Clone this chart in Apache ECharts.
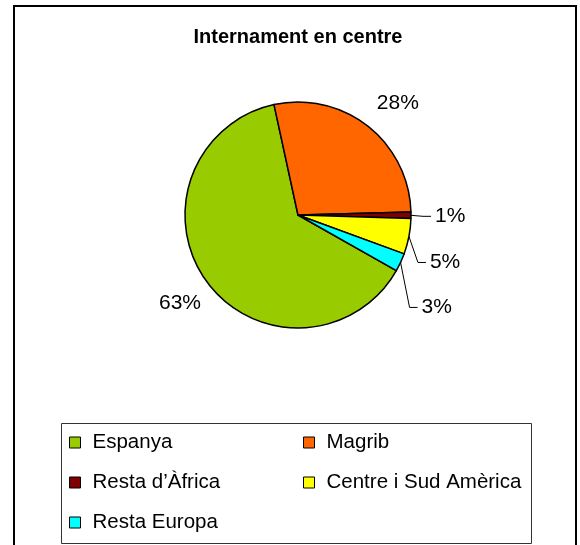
<!DOCTYPE html>
<html>
<head>
<meta charset="utf-8">
<script src="https://cdn.jsdelivr.net/npm/echarts@6/dist/echarts.min.js"></script>
<style>
html, body { margin: 0; padding: 0; background: #fff; }
#js-pie { width: 580px; height: 545px; }
</style>
</head>
<body>
<div id="js-pie"></div>
<script>
// data (percent of internments)
var categories = ['Espanya', 'Magrib', 'Resta d’Àfrica', 'Centre i Sud Amèrica', 'Resta Europa'];
var values = [63.4, 28.0, 0.9, 5.1, 2.6];
var colors = ['#99CC00', '#FF6600', '#800000', '#FFFF00', '#00FFFF'];
var titleText = 'Internament en centre';

var FONT = '"Liberation Sans", Arial, sans-serif';

// label box position relative to the slice edge point [dx, dy, align]
var labelOffsets = [[-2, 21, 'right'], [5, -23, 'left'], [20, 1, 'left'], [17, 26, 'left'], [17, 45, 'left']];
var LINE_LEN2 = 8;

initPieChart();

function makeLegend(names, left){
	return {
		data: names,
		orient: 'vertical',
		left: left,
		top: 432,
		padding: 0,
		icon: 'rect',
		itemWidth: 11,
		itemHeight: 11,
		itemGap: 19,
		selectedMode: false,
		itemStyle: { borderColor: '#000', borderWidth: 1 },
		textStyle: { fontFamily: FONT, fontSize: 20.5, color: '#000', lineHeight: 20, padding: [0, 0, 0, 7] }
	};
}

function initPieChart(){
	var pieChart = echarts.init(document.getElementById('js-pie'));
	var data = categories.map(function(name, i){
		var item = { value: values[i], name: name, itemStyle: { color: colors[i] } };
		if (i < 2) {
			item.labelLine = { lineStyle: { opacity: 0 } };
		}
		return item;
	});
	var option = {
		animation: false,
		color: colors,
		title: {
			text: titleText,
			left: 298,
			top: 27,
			padding: 0,
			textAlign: 'center',
			textStyle: { fontFamily: FONT, fontSize: 20, fontWeight: 'bold', color: '#000' }
		},
		legend: [
			makeLegend(categories.filter(function(c, i){ return i % 2 === 0; }), 69),
			makeLegend(categories.filter(function(c, i){ return i % 2 === 1; }), 303)
		],
		graphic: [
			{ type: 'rect', silent: true, shape: { x: 14, y: 6, width: 562, height: 600 }, style: { fill: 'none', stroke: '#000', lineWidth: 2 } },
			{ type: 'rect', silent: true, shape: { x: 61.5, y: 423.5, width: 470, height: 120 }, style: { fill: 'none', stroke: '#333', lineWidth: 1 } }
		],
		series: [
			{
				name: titleText,
				type: 'pie',
				center: [298, 215],
				radius: 113,
				startAngle: -29.5,
				percentPrecision: 0,
				avoidLabelOverlap: false,
				minShowLabelAngle: 0,
				itemStyle: { borderColor: '#000', borderWidth: 1.5 },
				label: {
					show: true,
					position: 'outside',
					formatter: '{d}%',
					fontFamily: FONT,
					fontSize: 21,
					color: '#000',
					padding: [0, 4]
				},
				labelLine: {
					show: true,
					length: 10,
					length2: LINE_LEN2,
					smooth: false,
					lineStyle: { color: '#000', width: 1 }
				},
				labelLayout: function(params){
					var pts = params.labelLinePoints;
					var off = labelOffsets[params.dataIndex];
					if (!pts || !off) return {};
					var a = pts[0];
					var x = a[0] + off[0];
					var y = a[1] + off[1];
					return {
						x: x,
						y: y,
						align: off[2],
						verticalAlign: 'middle',
						labelLinePoints: [[a[0], a[1]], [x - LINE_LEN2, y], [x, y]]
					};
				},
				emphasis: { disabled: true },
				data: data
			}
		]
	};
	pieChart.setOption(option);
}
</script>
</body>
</html>
